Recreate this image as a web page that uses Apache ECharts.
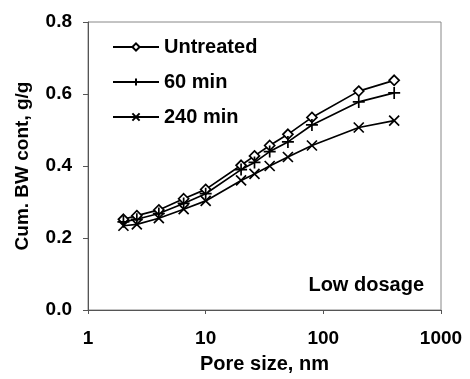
<!DOCTYPE html>
<html>
<head>
<meta charset="utf-8">
<script src="https://cdn.jsdelivr.net/npm/echarts@6/dist/echarts.min.js"></script>
<style>
  html, body { margin: 0; padding: 0; background: #fff; }
  #main { width: 470px; height: 379px; }
</style>
</head>
<body>
<div id="main"></div>
<script>
// pore sizes (nm)
const poreSize = [2, 2.6, 4, 6.5, 10, 20, 26, 35, 50, 80, 200, 400];
const untreated = [0.252, 0.262, 0.278, 0.309, 0.335, 0.402, 0.428, 0.457, 0.488, 0.535, 0.608, 0.638];
const min60 = [0.245, 0.252, 0.268, 0.296, 0.323, 0.39, 0.41, 0.44, 0.467, 0.514, 0.578, 0.603];
const min240 = [0.234, 0.238, 0.255, 0.28, 0.303, 0.36, 0.378, 0.4, 0.425, 0.457, 0.507, 0.526];
const yTicks = [0, 0.2, 0.4, 0.6, 0.8];

const font = "Liberation Sans, Arial, sans-serif";
const chart = echarts.init(document.getElementById("main"));

const pairs = (ys) => poreSize.map((x, i) => [x, ys[i]]);

const baseSeries = (name, ys, symbol, size) => ({
  name: name,
  type: "line",
  data: pairs(ys),
  symbol: symbol,
  symbolSize: size,
  showSymbol: true,
  lineStyle: { color: "#000", width: 1.7 },
  itemStyle: { color: "#fff", borderColor: "#000", borderWidth: 1.7 },
  emphasis: { disabled: true },
  z: 3,
});

chart.setOption({
  animation: false,
  backgroundColor: "#fff",
  textStyle: { fontFamily: font },
  grid: {
    left: 88,
    right: 29,
    top: 22,
    bottom: 64,
    show: true,
    borderColor: "#888",
    borderWidth: 1,
  },
  legend: {
    orient: "vertical",
    left: 107,
    top: 32,
    itemGap: 15,
    itemWidth: 46,
    itemHeight: 9,
    textStyle: { fontSize: 20, lineHeight: 20, fontWeight: "bold", color: "#000", fontFamily: font },
    data: ["Untreated", "60 min", "240 min"],
  },
  xAxis: {
    type: "log",
    logBase: 10,
    min: 1,
    max: 1000,
    name: "Pore size, nm",
    nameLocation: "middle",
    nameGap: 44,
    nameTextStyle: { fontSize: 20, fontWeight: "bold", color: "#000" },
    axisLine: { lineStyle: { color: "#555", width: 1 } },
    axisTick: { show: true, length: 4, lineStyle: { color: "#555" } },
    minorTick: { show: false },
    splitLine: { show: false },
    axisLabel: {
      fontSize: 19,
      fontWeight: "bold",
      color: "#000",
      margin: 19,
      formatter: (v) => String(v),
    },
  },
  yAxis: {
    type: "value",
    min: yTicks[0],
    max: yTicks[yTicks.length - 1],
    interval: 0.2,
    name: "Cum. BW cont, g/g",
    nameLocation: "middle",
    nameGap: 56,
    nameTextStyle: { fontSize: 19, fontWeight: "bold", color: "#000" },
    axisLine: { show: true, lineStyle: { color: "#555", width: 1 } },
    axisTick: { show: true, length: 5, lineStyle: { color: "#555" } },
    splitLine: { show: false },
    axisLabel: {
      fontSize: 19,
      fontWeight: "bold",
      color: "#000",
      margin: 16,
      formatter: (v) => v.toFixed(1),
    },
  },
  graphic: [
    {
      type: "text",
      right: 46,
      top: 275,
      style: { text: "Low dosage", font: "bold 20px " + font, fill: "#000" },
    },
  ],
  series: [
    baseSeries("Untreated", untreated, "diamond", 10),
    baseSeries("60 min", min60, "path://M0,0L10,0M5,-6L5,6", 12),
    baseSeries("240 min", min240, "path://M0,0L10,10M10,0L0,10", 10),
  ],
});
</script>
</body>
</html>
